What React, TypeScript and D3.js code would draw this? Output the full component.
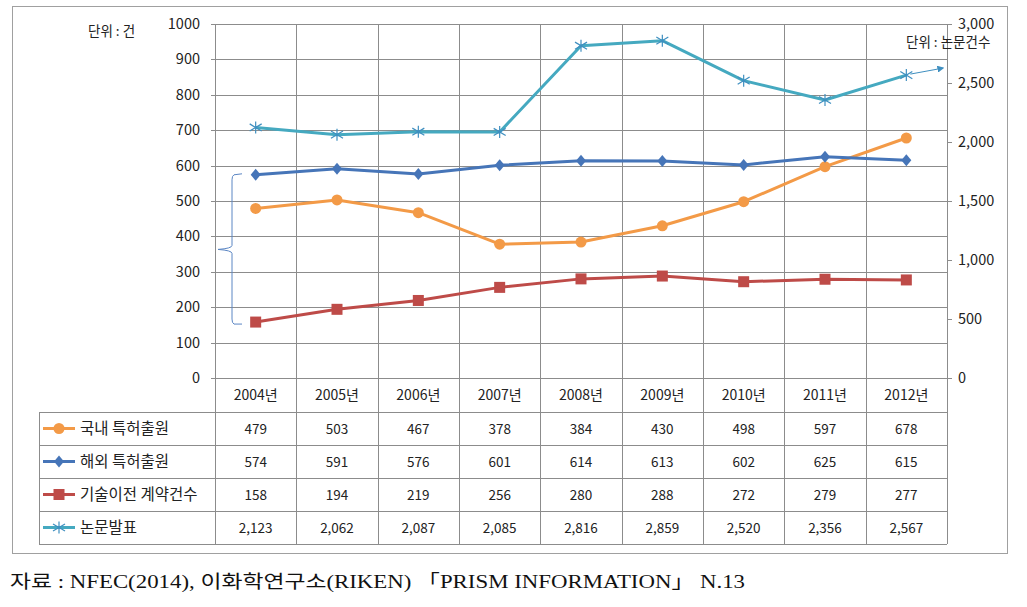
import React from "react";
import * as d3 from "d3";

const years = ["2004년", "2005년", "2006년", "2007년", "2008년", "2009년", "2010년", "2011년", "2012년"];
const domestic = [479, 503, 467, 378, 384, 430, 498, 597, 678];
const overseas = [574, 591, 576, 601, 614, 613, 602, 625, 615];
const transfer = [158, 194, 219, 256, 280, 288, 272, 279, 277];
const papers = [2123, 2062, 2087, 2085, 2816, 2859, 2520, 2356, 2567];
const leftTicks = [0, 100, 200, 300, 400, 500, 600, 700, 800, 900, 1000];
const rightTicks = [0, 500, 1000, 1500, 2000, 2500, 3000];
const seriesNames = ["국내 특허출원", "해외 특허출원", "기술이전 계약건수", "논문발표"];
const seriesColors = ["#F39A47", "#4675B8", "#BE4B48", "#45A9C0"];

const FONT = "'Noto Sans CJK KR', 'Noto Sans', sans-serif";

export default function App() {
  const left = 215, right = 947, top = 24, bottom = 378;
  const x = d3.scaleBand<string>().domain(years).range([left, right]);
  const cx = (i: number) => (x(years[i]) as number) + x.bandwidth() / 2;
  const yL = d3.scaleLinear().domain([0, 1000]).range([bottom, top]);
  const yR = d3.scaleLinear().domain([0, 3000]).range([bottom, top]);
  const line = d3.line<[number, number]>();
  const tableTop = 412, rowH = 33, tableLeft = 39;
  const grid = "#8c8c8c";

  const seriesData = [
    { vals: domestic, y: yL },
    { vals: overseas, y: yL },
    { vals: transfer, y: yL },
    { vals: papers, y: yR },
  ];
  const fmt = d3.format(",");

  const marker = (k: number, px: number, py: number, key: string) => {
    const c = seriesColors[k];
    if (k === 0) return <circle key={key} cx={px} cy={py} r={5.5} fill={c} />;
    if (k === 1) return <path key={key} d={`M${px},${py - 6}L${px + 5},${py}L${px},${py + 6}L${px - 5},${py}Z`} fill={c} />;
    if (k === 2) return <rect key={key} x={px - 5.5} y={py - 5.5} width={11} height={11} fill={c} />;
    const s = 6;
    return (
      <g key={key} stroke="#3f8fc0" strokeWidth={1.2}>
        <line x1={px} y1={py - s} x2={px} y2={py + s} />
        <line x1={px - s} y1={py - s * 0.6} x2={px + s} y2={py + s * 0.6} />
        <line x1={px - s} y1={py + s * 0.6} x2={px + s} y2={py - s * 0.6} />
      </g>
    );
  };

  const lastX = cx(8), lastY = yR(papers[8]);
  const bTop = yL(overseas[0]) + 1, bBot = yL(transfer[0]) + 1, bMid = (bTop + bBot) / 2;
  const bx = 232;

  return (
    <svg width={1027} height={607} style={{ position: "absolute", left: 0, top: 0, background: "#fff" }}>
      <defs>
        <marker id="arr" viewBox="0 0 10 10" refX="8" refY="5" markerWidth="7" markerHeight="7" orient="auto">
          <path d="M0,0L10,5L0,10Z" fill="#3f8fc0" />
        </marker>
      </defs>
      <rect x={0} y={0} width={1027} height={607} fill="#fff" />
      <rect x={12.5} y={6.5} width={995} height={547} fill="none" stroke="#a0a0a0" />

      {leftTicks.map((t) => (
        <line key={"h" + t} x1={left - 4} x2={right} y1={Math.round(yL(t)) + 0.5} y2={Math.round(yL(t)) + 0.5} stroke={grid} />
      ))}
      {rightTicks.map((t) => (
        <line key={"rt" + t} x1={right} x2={right + 5} y1={Math.round(yR(t)) + 0.5} y2={Math.round(yR(t)) + 0.5} stroke={grid} />
      ))}
      {d3.range(10).map((i) => {
        const xx = Math.round(left + i * x.bandwidth()) + 0.5;
        return <line key={"v" + i} x1={xx} x2={xx} y1={top} y2={tableTop + rowH * 4} stroke={grid} />;
      })}
      {d3.range(5).map((r) => (
        <line key={"tr" + r} x1={tableLeft} x2={right} y1={tableTop + r * rowH + 0.5} y2={tableTop + r * rowH + 0.5} stroke={grid} />
      ))}
      <line x1={tableLeft + 0.5} x2={tableLeft + 0.5} y1={tableTop} y2={tableTop + rowH * 4} stroke={grid} />

      {leftTicks.map((t) => (
        <text key={"lt" + t} x={200} y={yL(t) + 5} textAnchor="end" fontSize={14.5} fontFamily={FONT} fill="#222">{t}</text>
      ))}
      {rightTicks.map((t) => (
        <text key={"rl" + t} x={958} y={yR(t) + 5} textAnchor="start" fontSize={14.5} fontFamily={FONT} fill="#222">{fmt(t)}</text>
      ))}

      <text x={88} y={36} fontSize={13.5} fontFamily={FONT} fill="#222">단위 : 건</text>
      <text x={906} y={47} fontSize={13.5} fontFamily={FONT} fill="#222">단위 : 논문건수</text>

      {years.map((yv, i) => (
        <text key={"c" + i} x={cx(i)} y={400} textAnchor="middle" fontSize={14} fontFamily={FONT} fill="#222">{yv}</text>
      ))}

      {seriesData.map((s, k) => (
        <path key={"l" + k}
          d={line(s.vals.map((v, i) => [cx(i), s.y(v)] as [number, number])) || ""}
          fill="none" stroke={seriesColors[k]} strokeWidth={3} strokeLinejoin="round" />
      ))}
      {seriesData.map((s, k) => s.vals.map((v, i) => marker(k, cx(i), s.y(v), `m${k}-${i}`)))}

      <line x1={lastX + 4} y1={lastY - 1} x2={right - 4} y2={lastY - 7} stroke="#3f8fc0" strokeWidth={1} markerEnd="url(#arr)" />

      <path
        d={`M${bx + 10},${bTop - 2} L${bx + 2},${bTop - 1} Q${bx},${bTop} ${bx},${bTop + 4} L${bx},${bMid - 4} Q${bx},${bMid - 1} ${left + 3},${bMid} Q${bx},${bMid + 1} ${bx},${bMid + 4} L${bx},${bBot - 4} Q${bx},${bBot} ${bx + 2},${bBot + 1} L${bx + 10},${bBot + 1}`}
        fill="none" stroke="#5b86c4" strokeWidth={1} />

      {seriesData.map((s, k) => {
        const ry = tableTop + k * rowH + rowH / 2;
        return (
          <g key={"row" + k}>
            <line x1={43} x2={75} y1={ry} y2={ry} stroke={seriesColors[k]} strokeWidth={3} />
            {marker(k, 59, ry, "lm" + k)}
            <text x={80} y={ry + 5.5} fontSize={15.5} fontFamily={FONT} fill="#222">{seriesNames[k]}</text>
            {s.vals.map((v, i) => (
              <text key={i} x={cx(i)} y={ry + 5} textAnchor="middle" fontSize={13.5} fontFamily={FONT} fill="#222">{fmt(v)}</text>
            ))}
          </g>
        );
      })}

      <text x={10} y={588} fontSize={18.5} textLength={735} lengthAdjust="spacingAndGlyphs" fontFamily="'Liberation Serif', 'DejaVu Serif', 'Noto Sans CJK KR', serif" fill="#111">자료 : NFEC(2014), 이화학연구소(RIKEN) 「PRISM INFORMATION」 N.13</text>
    </svg>
  );
}
